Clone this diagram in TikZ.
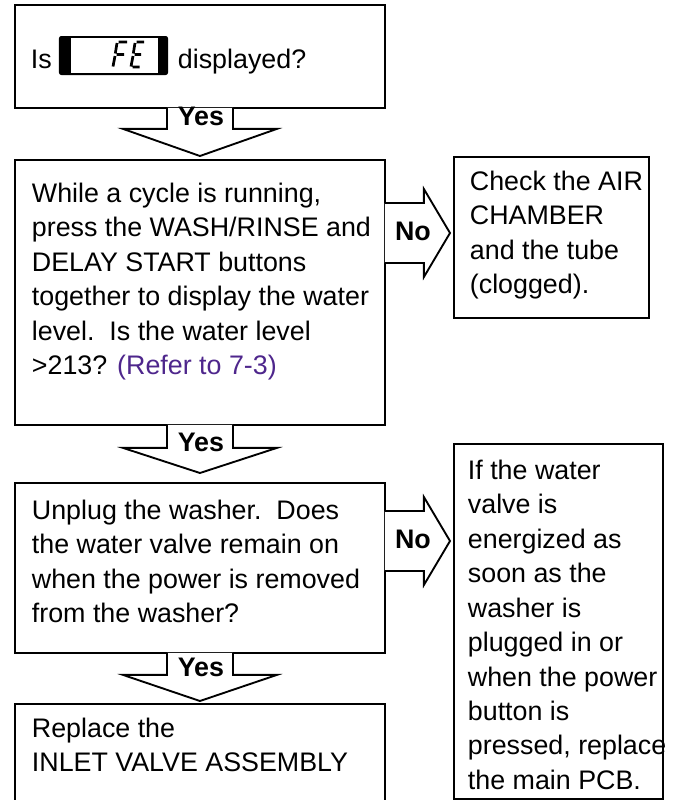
\documentclass[tikz,border=0pt]{standalone}
\usepackage{fontspec}
\setmainfont{Liberation Sans}
\usetikzlibrary{calc}

\begin{document}
\begin{tikzpicture}[x=0.03cm, y=-0.03cm, line width=1.6pt,
    box/.style={draw, anchor=north west, inner sep=0pt},
    txt/.style={anchor=north west, inner sep=0pt, align=left,
        font=\fontsize{22.9}{29.4}\selectfont},
    lbl/.style={anchor=base, inner sep=0pt,
        font=\fontsize{22.9}{29.4}\selectfont\bfseries},
    blockarrow/.style={draw, preaction={fill=white}}]
    % Màu chữ tham chiếu (tím)
    \definecolor{referpurple}{RGB}{78, 38, 140}

    \useasboundingbox (0,0) rectangle (673,800);
    \clip (0,0) rectangle (673,800);

    % 1. Các hộp
    \node[box, minimum width=11.1cm, minimum height=3.09cm] (q1) at (14,4) {};
    \node[box, minimum width=11.1cm, minimum height=7.95cm] (q2) at (14,159) {};
    \node[box, minimum width=11.1cm, minimum height=5.1cm] (q3) at (14,482) {};
    \node[box, minimum width=11.1cm, minimum height=3.6cm] (q4) at (14,703) {};
    \node[box, minimum width=5.85cm, minimum height=4.83cm] (r1) at (453,156) {};
    \node[box, minimum width=6.27cm, minimum height=10.65cm] (r2) at (453,443) {};

    % 2. Dòng đầu: Is [FE] displayed?
    \node[txt, anchor=base west] (is) at (30,68) {Is};
    \node[fill=black, rounded corners=2pt, inner sep=0pt,
        minimum width=3.27cm, minimum height=1.17cm] (lcd) at (113.5,55.5) {};
    \fill[white] ($(lcd.north west)+(12.5,2.5)$) rectangle ($(lcd.south east)+(-11,-3)$);
    \begin{scope}[shift={(lcd.center)}, line width=2.3pt]
        \draw (3.5,-12.5) -- (1.8,-2) (1.5,0.5) -- (-0.5,11)
            (5,-13.5) -- (13.5,-13.5) (3,-1) -- (10.5,-1);
        \draw (21.5,-12.5) -- (19.8,-2) (19.5,0.5) -- (17.5,11)
            (23,-13.5) -- (30.5,-13.5) (21,-1) -- (27.5,-1) (19,11.5) -- (26,11.5);
    \end{scope}
    \node[txt, anchor=base west] (disp) at (177,68) {displayed?};

    % 3. Chữ trong các hộp
    \node[txt] (q2t) at (31,182) {While a cycle is running,\\
        press the WASH/RINSE and\\
        DELAY START buttons\\
        together to display the water\\
        level.\ \ Is the water level\\
        >213? \textcolor{referpurple}{(Refer to 7-3)}};
    \node[txt] (q3t) at (31,499) {Unplug the washer.\ \ Does\\
        the water valve remain on\\
        when the power is removed\\
        from the washer?};
    \node[txt] (q4t) at (31,717) {Replace the\\ INLET VALVE ASSEMBLY};
    \node[txt] (r1t) at (469,170) {Check the AIR\\ CHAMBER\\ and the tube\\ (clogged).};
    \node[txt] (r2t) at (467,459) {If the water\\ valve is\\ energized as\\
        soon as the\\ washer is\\ plugged in or\\ when the power\\
        button is\\ pressed, replace\\ the main PCB.};

    % 4. Mũi tên Yes (xuống)
    \draw[blockarrow] ($(q1.south)+(-33,-1)$) -- ++(0,21) -- ++(-44,0)
        -- ($(q2.north)+(0,-3)$) -- ($(q1.south)+(77,20)$) -- ++(-44,0) -- ++(0,-21);
    \draw[blockarrow] ($(q2.south)+(-33,-1)$) -- ++(0,23) -- ++(-44,0)
        -- ($(q3.north)+(0,-9)$) -- ($(q2.south)+(77,22)$) -- ++(-44,0) -- ++(0,-23);
    \draw[blockarrow] ($(q3.south)+(-33,-1)$) -- ++(0,22) -- ++(-44,0)
        -- ($(q4.north)+(0,-2)$) -- ($(q3.south)+(77,21)$) -- ++(-44,0) -- ++(0,-22);
    \node[lbl] (yes1) at ($(q1.south)+(1,17)$) {Yes};
    \node[lbl] (yes2) at ($(q2.south)+(1,26)$) {Yes};
    \node[lbl] (yes3) at ($(q3.south)+(1,23)$) {Yes};

    % 5. Mũi tên No (sang phải)
    \coordinate (n1) at ($(q2.north east)+(0,74)$);
    \coordinate (n2) at ($(q3.north east)+(0,59)$);
    \draw[blockarrow] ($(n1)+(-1,-30)$) -- ++(39,0) -- ++(0,-14)
        -- ($(n1 -| r1.west)+(-3,0)$) -- ($(n1)+(38,44)$) -- ++(0,-14) -- ++(-39,0);
    \draw[blockarrow] ($(n2)+(-1,-30)$) -- ++(39,0) -- ++(0,-14)
        -- ($(n2 -| r2.west)+(-3,0)$) -- ($(n2)+(38,44)$) -- ++(0,-14) -- ++(-39,0);
    \node[lbl] (no1) at ($(n1)+(27,7.5)$) {No};
    \node[lbl] (no2) at ($(n2)+(27,7.5)$) {No};
\end{tikzpicture}
\end{document}
